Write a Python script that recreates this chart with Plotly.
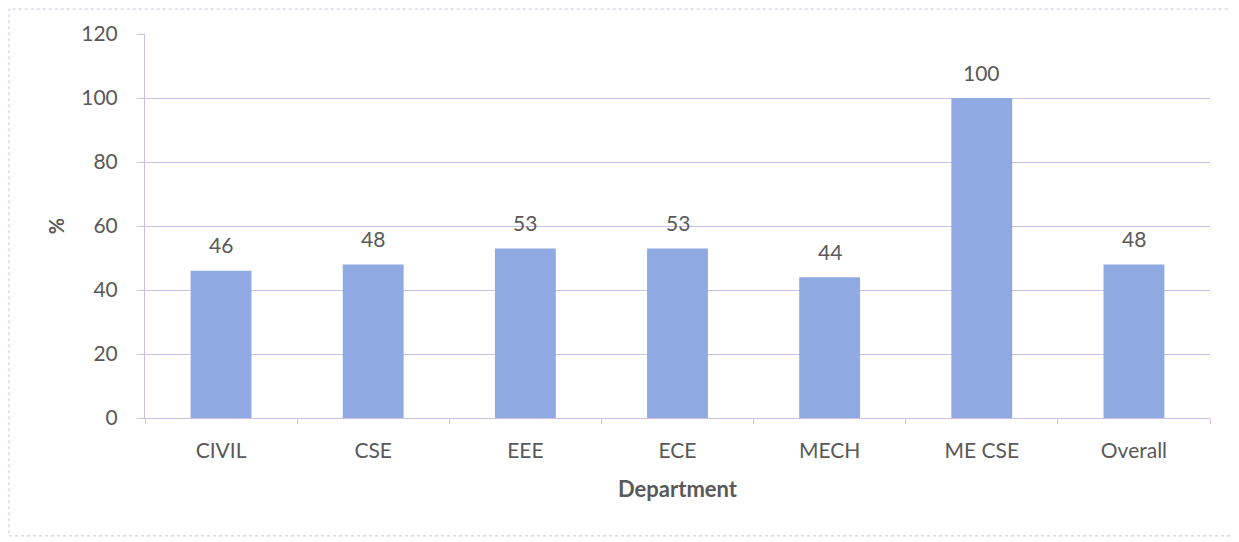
import plotly.graph_objects as go

departments = ["CIVIL", "CSE", "EEE", "ECE", "MECH", "ME CSE", "Overall"]
percent = [46, 48, 53, 53, 44, 100, 48]
y_ticks = [0, 20, 40, 60, 80, 100, 120]

FONT = "Lato"
TXT = "#595959"
GRID = "#cdbfe3"

fig = go.Figure()
fig.add_trace(go.Bar(
    x=departments, y=percent,
    marker=dict(color="#8fa9e2", line=dict(width=0)),
    width=0.4,
))

for d, v in zip(departments, percent):
    fig.add_annotation(x=d, y=v, text=str(v), showarrow=False,
                       yanchor="middle", yshift=26,
                       font=dict(family=FONT, size=21, color=TXT))

# outer chart border (page body is offset by 8px)
fig.add_shape(type="rect", xref="paper", yref="paper",
              x0=-0.1277, x1=1.0225, y0=-0.307, y1=1.065,
              line=dict(color="#cbbfe0", width=1, dash="dot"), layer="below")

fig.update_layout(
    width=1231, height=534,
    margin=dict(l=137, r=29, t=26, b=124),
    paper_bgcolor="white", plot_bgcolor="white",
    showlegend=False,
    font=dict(family=FONT, color=TXT),
    xaxis=dict(
        title=dict(text="<b>Department</b>", font=dict(family=FONT, size=22, color=TXT), standoff=20),
        tickfont=dict(family=FONT, size=21, color=TXT),
        showline=True, linecolor=GRID, linewidth=1,
        ticks="outside", tickson="boundaries", ticklen=5, tickcolor=GRID,
        ticklabelstandoff=14,
        showgrid=False,
    ),
    yaxis=dict(
        title=dict(text="<b>%</b>", font=dict(family=FONT, size=20, color=TXT), standoff=11),
        tickfont=dict(family=FONT, size=21, color=TXT),
        range=[0, 120], tickvals=y_ticks,
        showgrid=True, gridcolor=GRID, gridwidth=1,
        showline=True, linecolor=GRID, linewidth=1,
        ticks="outside", ticklen=7, tickcolor=GRID,
        ticklabelstandoff=15,
        zeroline=False,
    ),
)

fig.write_html("out.html")
